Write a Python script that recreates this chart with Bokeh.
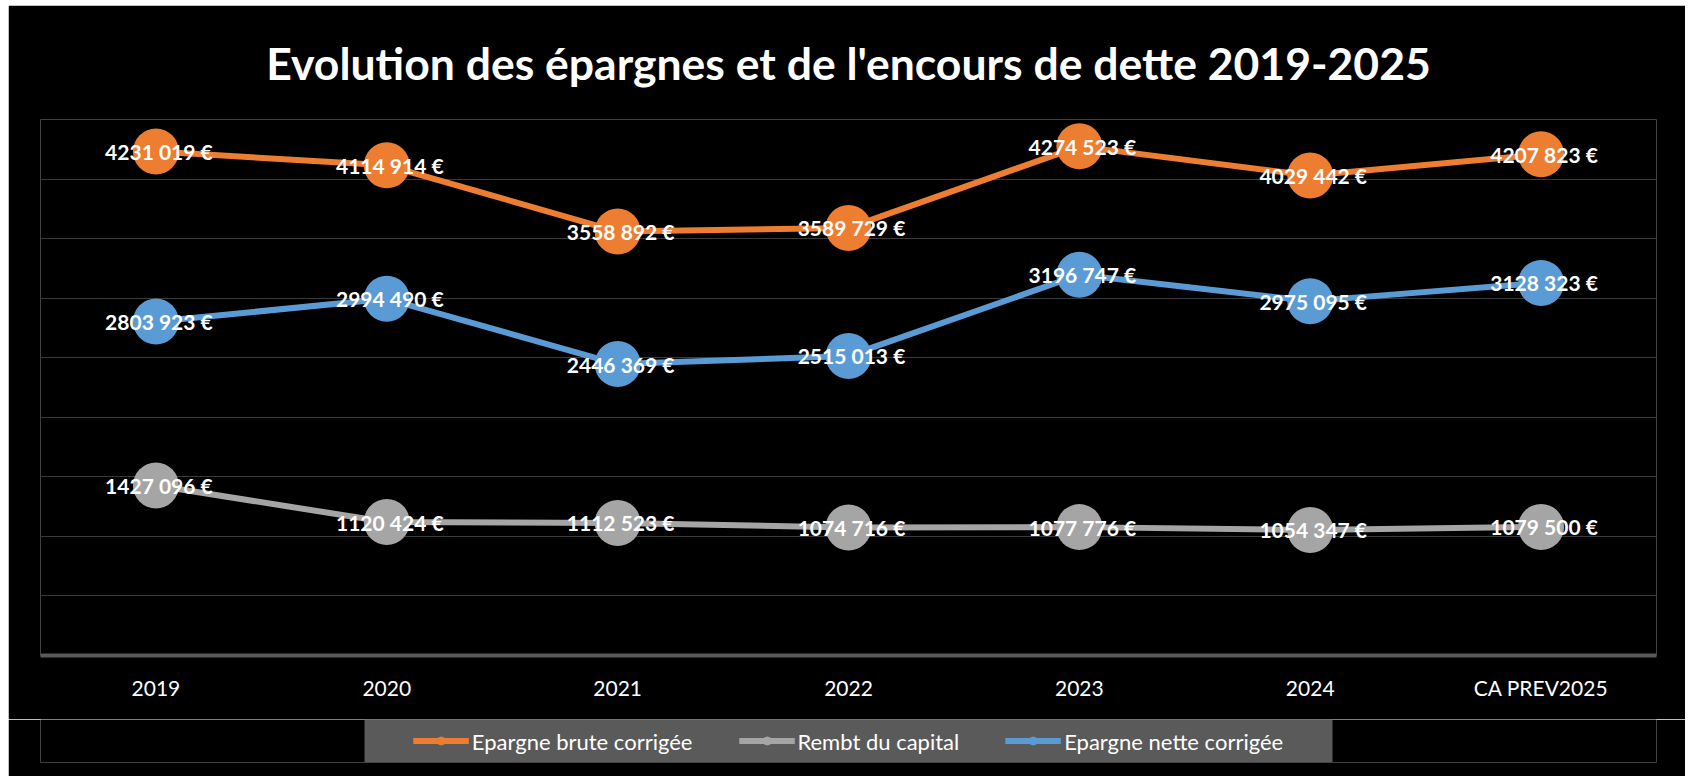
from bokeh.plotting import figure
from bokeh.layouts import column
from bokeh.models import (Legend, LegendItem, FactorRange, Range1d, SingleIntervalTicker,
                          ColumnDataSource, BoxAnnotation)
from bokeh.core.properties import value
from bokeh.embed import file_html
from bokeh.resources import INLINE

categories = ["2019", "2020", "2021", "2022", "2023", "2024", "CA PREV2025"]
epargne_brute = [4231019, 4114914, 3558892, 3589729, 4274523, 4029442, 4207823]
rembt_capital = [1427096, 1120424, 1112523, 1074716, 1077776, 1054347, 1079500]
epargne_nette = [2803923, 2994490, 2446369, 2515013, 3196747, 2975095, 3128323]
series_names = ["Epargne brute corrigée", "Rembt du capital", "Epargne nette corrigée"]
series_values = [epargne_brute, rembt_capital, epargne_nette]
colors = ["#ED7D31", "#A5A5A5", "#5B9BD5"]
title_text = "Evolution des épargnes et de l'encours de dette 2019-2025"


def fmt(v):
    m = v // 1000000
    t = (v // 1000) % 1000
    u = v % 1000
    return f"{m}{t:03d} {u:03d} €"


FONT = "Lato"

p = figure(
    x_range=FactorRange(factors=categories),
    y_range=Range1d(0, 4500000),
    frame_width=1616, frame_height=536,
    output_backend="svg", toolbar_location=None,
    min_border_left=32, min_border_right=29, min_border_top=114, min_border_bottom=64,
    background_fill_color="black", border_fill_color="black",
)
p.margin = (5, 8, 0, 8)
p.outline_line_color = None

p.title.text = title_text
p.title.align = "center"
p.title.vertical_align = "top"
p.title.text_font = FONT
p.title.text_font_style = "bold"
p.title.text_font_size = "44.5px"
p.title.text_color = "white"
p.title.standoff = 58

p.yaxis.visible = False
p.yaxis.ticker = SingleIntervalTicker(interval=500000)
p.ygrid.ticker = SingleIntervalTicker(interval=500000)
p.ygrid.grid_line_color = "#3a3a3a"
p.ygrid.grid_line_width = 1
p.xgrid.grid_line_color = None

p.xaxis.axis_line_color = "#595959"
p.xaxis.axis_line_width = 4
p.xaxis.major_tick_line_color = None
p.xaxis.minor_tick_line_color = None
p.xaxis.major_label_text_font = FONT
p.xaxis.major_label_text_font_size = "21px"
p.xaxis.major_label_text_color = "white"
p.xaxis.major_label_standoff = 13

text_sources = []
for vals, col in zip(series_values, colors):
    src = ColumnDataSource(dict(x=categories, y=vals, label=[fmt(v) for v in vals]))
    p.line("x", "y", source=src, line_color=col, line_width=6)
    text_sources.append(src)

for src, col in zip(text_sources, colors):
    p.scatter("x", "y", source=src, size=46, fill_color=col, line_color=None)

for src in text_sources:
    p.text("x", "y", text="label", source=src, text_align="center", text_baseline="middle",
           x_offset=3, text_color="white", text_font=value(FONT), text_font_style="bold",
           text_font_size="21px")

# Legend strip: same borders as the main plot so the frames stay aligned
lf = figure(
    x_range=FactorRange(factors=categories),
    y_range=Range1d(-20000000, -19000000),
    frame_width=1616, frame_height=43,
    output_backend="svg", toolbar_location=None,
    min_border_left=32, min_border_right=29, min_border_top=0, min_border_bottom=14,
    background_fill_color="black", border_fill_color="black",
)
lf.margin = (0, 8, 0, 8)
lf.outline_line_color = None
lf.axis.visible = False
lf.grid.visible = False

box = BoxAnnotation(left=356, right=1324, top=0, bottom=43,
                    left_units="canvas", right_units="canvas",
                    top_units="canvas", bottom_units="canvas",
                    fill_color="#5a5a5a", fill_alpha=1, line_color=None)
lf.add_layout(box)

items = []
for name, src, col in zip(series_names, text_sources, colors):
    ln = lf.line("x", "y", source=src, line_color=col, line_width=6)
    sm = lf.scatter("x", "y", source=src, size=11, fill_color=col, line_color=col)
    items.append(LegendItem(label=name, renderers=[ln, sm]))

legend = Legend(items=items, orientation="horizontal", location="center")
legend.background_fill_alpha = 0
legend.border_line_color = None
legend.label_text_color = "white"
legend.label_text_font = FONT
legend.label_text_font_size = "22px"
legend.glyph_width = 56
legend.glyph_height = 20
legend.label_standoff = 3
legend.spacing = 46
legend.padding = 0
legend.margin = 0
lf.add_layout(legend)

layout = column(p, lf, spacing=0)
open("out.html", "w").write(file_html(layout, INLINE))
